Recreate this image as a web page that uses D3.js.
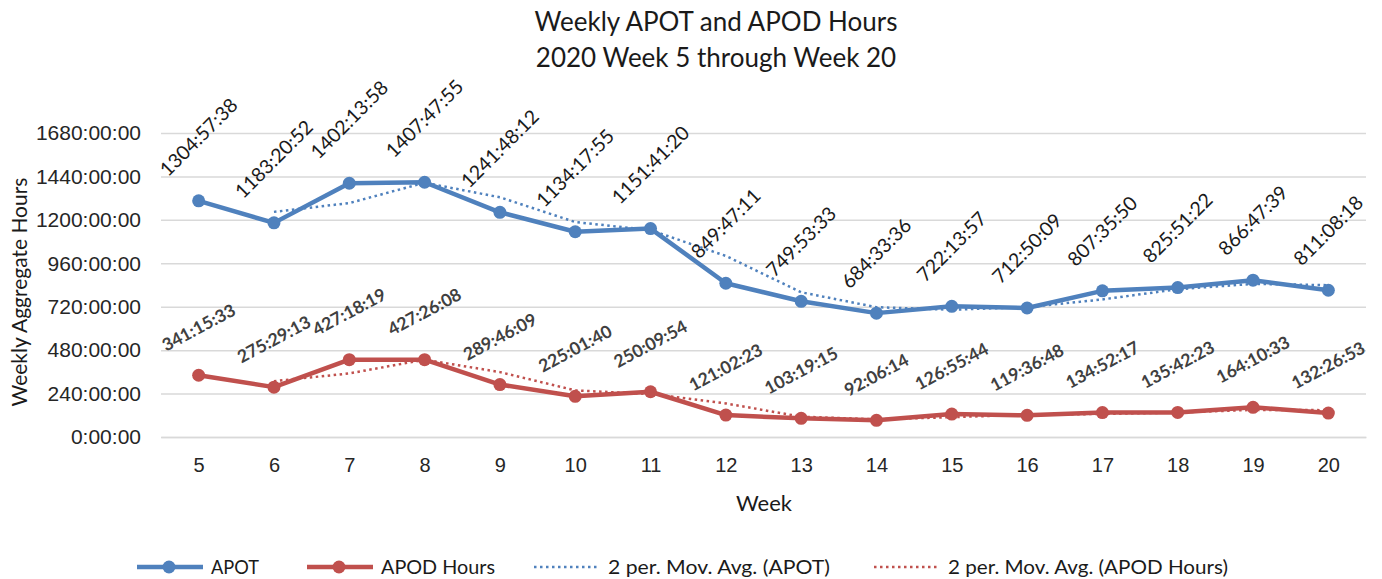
<!DOCTYPE html>
<html>
<head>
<meta charset="utf-8">
<script src="https://cdn.jsdelivr.net/npm/d3@7"></script>
<style>
  body { margin: 0; background: #fff; }
  svg { font-family: Lato, Carlito, Calibri, "Open Sans", sans-serif; }
</style>
</head>
<body>
<svg id="chart" width="1382" height="579"></svg>
<script>
// week numbers on the x axis
var weeks = [5, 6, 7, 8, 9, 10, 11, 12, 13, 14, 15, 16, 17, 18, 19, 20];
// weekly totals, as printed on the chart (h:mm:ss)
var apot = ["1304:57:38", "1183:20:52", "1402:13:58", "1407:47:55", "1241:48:12", "1134:17:55",
  "1151:41:20", "849:47:11", "749:53:33", "684:33:36", "722:13:57", "712:50:09",
  "807:35:50", "825:51:22", "866:47:39", "811:08:18"];
var apod = ["341:15:33", "275:29:13", "427:18:19", "427:26:08", "289:46:09", "225:01:40",
  "250:09:54", "121:02:23", "103:19:15", "92:06:14", "126:55:44", "119:36:48",
  "134:52:17", "135:42:23", "164:10:33", "132:26:53"];
var yTicks = [0, 240, 480, 720, 960, 1200, 1440, 1680];

var blue = "#4f81bd", red = "#c0504d";

function toHours(s) {
  var p = s.split(":").map(Number);
  return p[0] + p[1] / 60 + p[2] / 3600;
}

// 2 period moving average, first value has none
function movAvg(vals) {
  var out = [];
  for (var i = 1; i < vals.length; i++) {
    out.push({ week: weeks[i], v: (vals[i] + vals[i - 1]) / 2 });
  }
  return out;
}

var svg = d3.select("#chart");

var x = d3.scalePoint().domain(weeks).range([161, 1366]).padding(0.5);
var y = d3.scaleLinear().domain([0, 1680]).range([437, 133]);

// titles
svg.append("text").attr("x", 716).attr("y", 31).attr("text-anchor", "middle")
  .style("font-size", "26px").attr("fill", "#1a1a1a").text("Weekly APOT and APOD Hours");
svg.append("text").attr("x", 716).attr("y", 67).attr("text-anchor", "middle")
  .style("font-size", "26px").attr("fill", "#1a1a1a").text("2020 Week 5 through Week 20");

// gridlines + y axis
var yAxis = d3.axisLeft(y).tickValues(yTicks)
  .tickSize(-(1366 - 161)).tickPadding(20)
  .tickFormat(function(d) { return d + ":00:00"; });
var gy = svg.append("g").attr("transform", "translate(161,0)").call(yAxis);
gy.select(".domain").remove();
gy.selectAll(".tick line").attr("stroke", "#d9d9d9").attr("stroke-width", 1.5);
gy.selectAll(".tick text").style("font-size", "21px").attr("fill", "#262626")
  .attr("font-family", null);

// x axis
var xAxis = d3.axisBottom(x).tickSize(0).tickPadding(21);
var gx = svg.append("g").attr("transform", "translate(0,437)").call(xAxis);
gx.select(".domain").attr("stroke", "#d9d9d9").attr("stroke-width", 1.5);
gx.selectAll(".tick text").style("font-size", "20px").attr("fill", "#262626")
  .attr("font-family", null);

// axis titles
svg.append("text").attr("x", 764).attr("y", 511).attr("text-anchor", "middle")
  .style("font-size", "22px").attr("fill", "#1a1a1a").text("Week");
svg.append("text").attr("transform", "translate(27,292) rotate(-90)")
  .attr("text-anchor", "middle").style("font-size", "21px").attr("fill", "#1a1a1a")
  .text("Weekly Aggregate Hours");

var series = [
  { name: "APOT", labels: apot, color: blue, angle: -45, labelColor: "#1a1a1a", weight: "normal", size: 19.5 },
  { name: "APOD Hours", labels: apod, color: red, angle: -28, labelColor: "#404040", weight: "bold", size: 17.5 }
];

var line = d3.line().x(function(d) { return x(d.week); }).y(function(d) { return y(d.v); });

series.forEach(function(s) {
  s.values = s.labels.map(toHours);
  s.points = s.values.map(function(v, i) { return { week: weeks[i], v: v, label: s.labels[i] }; });

  // trend line
  svg.append("path").datum(movAvg(s.values))
    .attr("d", line).attr("fill", "none")
    .attr("stroke", s.color).attr("stroke-width", 2.5)
    .attr("stroke-dasharray", "2.5,3.5");
});

series.forEach(function(s) {
  var g = svg.append("g");
  g.append("path").datum(s.points)
    .attr("d", line).attr("fill", "none")
    .attr("stroke", s.color).attr("stroke-width", 4.5)
    .attr("stroke-linejoin", "round");
  g.selectAll("circle").data(s.points).enter().append("circle")
    .attr("cx", function(d) { return x(d.week); })
    .attr("cy", function(d) { return y(d.v); })
    .attr("r", 6.5).attr("fill", s.color);
});

// data labels, rotated and sat above each point
series.forEach(function(s) {
  var rad = Math.abs(s.angle) * Math.PI / 180;
  svg.append("g").selectAll("text").data(s.points).enter().append("text")
    .attr("text-anchor", "middle")
    .attr("dy", "0.35em")
    .style("font-size", s.size + "px")
    .style("font-weight", s.weight)
    .attr("fill", s.labelColor)
    .text(function(d) { return d.label; })
    .attr("transform", function(d) {
      var len = this.getComputedTextLength();
      var boxH = len * Math.sin(rad) + s.size * 0.9 * Math.cos(rad);
      var cy = y(d.v) - 22 - boxH / 2;
      return "translate(" + x(d.week) + "," + cy + ") rotate(" + s.angle + ")";
    });
});

// legend
var legend = [
  { name: "APOT", color: blue, x: 137, w: 48, dotted: false },
  { name: "APOD Hours", color: red, x: 307, w: 114, dotted: false },
  { name: "2 per. Mov. Avg. (APOT)", color: blue, x: 534, w: 222, dotted: true },
  { name: "2 per. Mov. Avg. (APOD Hours)", color: red, x: 874, w: 280, dotted: true }
];
var lg = svg.append("g").attr("transform", "translate(0,567)");
legend.forEach(function(l) {
  lg.append("line").attr("x1", l.x).attr("x2", l.x + 66)
    .attr("stroke", l.color)
    .attr("stroke-width", l.dotted ? 2.5 : 4.5)
    .attr("stroke-dasharray", l.dotted ? "2.5,3.5" : null);
  if (!l.dotted) {
    lg.append("circle").attr("cx", l.x + 32).attr("r", 6.5).attr("fill", l.color);
  }
  lg.append("text").attr("x", l.x + 74).attr("dy", "0.35em")
    .style("font-size", "20px").attr("fill", "#1a1a1a")
    .attr("textLength", l.w).attr("lengthAdjust", "spacingAndGlyphs")
    .text(l.name);
});
</script>
</body>
</html>
